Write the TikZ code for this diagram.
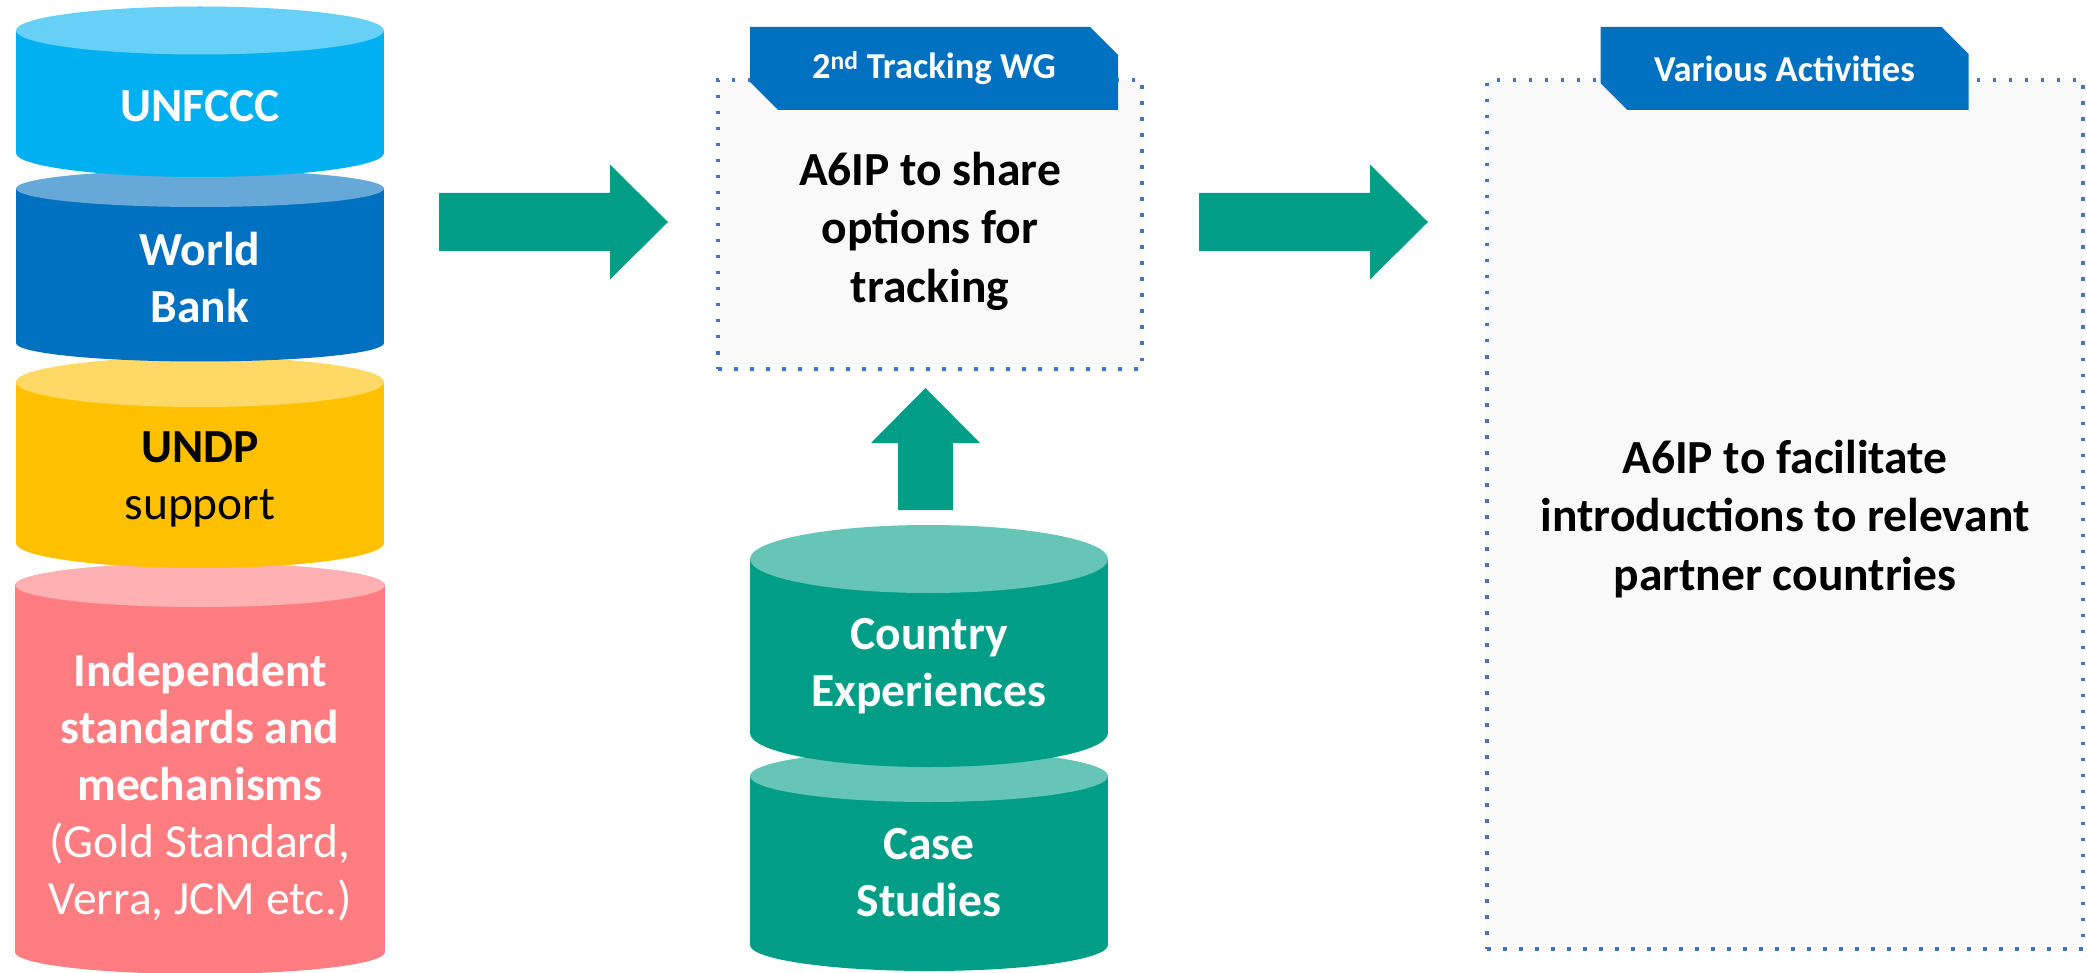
\documentclass[tikz,border=0pt]{standalone}
\usepackage{fontspec}
\setmainfont{Carlito}
\usetikzlibrary{shapes.misc}
\definecolor{cA}{RGB}{0,176,240}
\definecolor{cAt}{RGB}{102,208,246}
\definecolor{cB}{RGB}{0,112,192}
\definecolor{cBt}{RGB}{102,169,217}
\definecolor{cC}{RGB}{255,192,0}
\definecolor{cCt}{RGB}{255,217,102}
\definecolor{cD}{RGB}{255,124,128}
\definecolor{cDt}{RGB}{255,176,179}
\definecolor{cE}{RGB}{0,158,135}
\definecolor{cEt}{RGB}{102,197,183}
\definecolor{boxfill}{RGB}{249,249,249}
\definecolor{dotblue}{RGB}{68,114,196}
\newcommand\mycyl[7]{%
  \fill[#6] (#1,#3) rectangle (#2,#4);
  \fill[#6] ({(#1+#2)/2},#4) ellipse [x radius={(#2-#1)/2}, y radius=#5];
  \fill[#7] ({(#1+#2)/2},#3) ellipse [x radius={(#2-#1)/2}, y radius=#5];
}
\tikzset{
  cyltext/.style={align=center, font=\fontsize{47.5}{57}\selectfont\bfseries, text=white, inner sep=0pt},
  boxtext/.style={align=center, font=\fontsize{47.5}{58.5}\selectfont\bfseries, text=black, inner sep=0pt},
  tabnode/.style={chamfered rectangle, chamfered rectangle corners={north east,south west},
    chamfered rectangle xsep=14pt, chamfered rectangle ysep=14pt, fill=cB, text=white,
    font=\fontsize{36.5}{44}\selectfont\bfseries, minimum width=368pt, minimum height=83pt, inner sep=0pt},
  dotbox/.style={draw=dotblue, fill=boxfill, line width=3.5pt, dash pattern=on 3.5pt off 12.5pt, inner sep=0pt},
  blockarrow/.style={fill=cE}
}
\begin{document}
\begin{tikzpicture}[x=1pt,y=-1pt]
\useasboundingbox (0,0) rectangle (2087,973);
\fill[white] (0,0) rectangle (2087,973);
% left stack (drawn bottom to top)
\mycyl{15}{385}{585}{952}{22}{cD}{cDt}
\mycyl{16}{384}{382}{543}{25}{cC}{cCt}
\mycyl{16}{384}{188.5}{343}{18.5}{cB}{cBt}
\mycyl{16}{384}{30.5}{153}{24}{cA}{cAt}
\node[cyltext] (unfccc) at (200,106) {UNFCCC};
\node[cyltext] (wb) at (200,278) {World\\Bank};
\node[cyltext, text=black] (undp) at (200,479) {UNDP\\\mdseries support};
\node[cyltext] (indep) at (200,787) {Independent\\standards and\\mechanisms\\\mdseries (Gold Standard,\\\mdseries Verra, JCM etc.)};
% middle stack
\mycyl{750}{1108}{776}{945}{26}{cE}{cEt}
\mycyl{750}{1108}{559}{733}{34}{cE}{cEt}
\node[cyltext] (country) at (929,666) {Country\\Experiences};
\node[cyltext] (case) at (929,873) {Case\\Studies};
% boxes
\node[dotbox, minimum width=424pt, minimum height=289pt] (box1) at (930,224.5) {};
\node[dotbox, minimum width=596pt, minimum height=869pt] (box2) at (1785,514.5) {};
\node[tabnode] (tab1) at (934,68.5) {2\textsuperscript{nd} Tracking WG};
\node[tabnode] (tab2) at (1784.5,68.5) {Various Activities};
\node[boxtext] (t1) at (930,231) {A6IP to share\\options for\\tracking};
\node[boxtext] (t2) at (1785,519) {A6IP to facilitate\\introductions to relevant\\partner countries};
% block arrows
\fill[blockarrow] (439,193) -- (610,193) -- (610,164.5) -- (668,222) -- (610,279.5) -- (610,251) -- (439,251) -- cycle;
\fill[blockarrow] (1199,193) -- (1370,193) -- (1370,164.5) -- (1428,222) -- (1370,279.5) -- (1370,251) -- (1199,251) -- cycle;
\fill[blockarrow] (898,510) -- (898,443) -- (871,443) -- (925.5,388) -- (980,443) -- (953,443) -- (953,510) -- cycle;
\end{tikzpicture}
\end{document}
